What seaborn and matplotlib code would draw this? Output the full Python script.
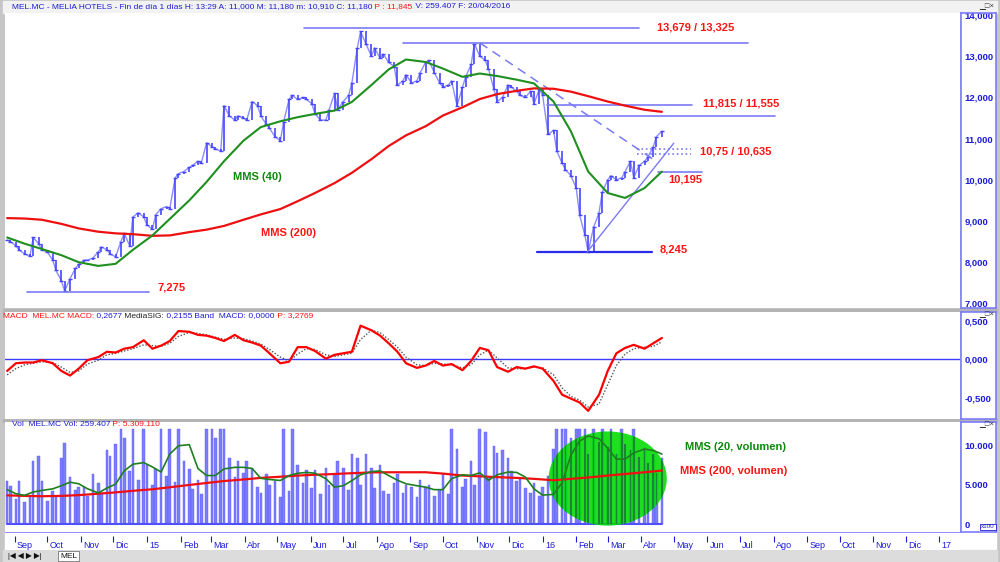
import numpy as np
import pandas as pd
import matplotlib
matplotlib.use("Agg")
import matplotlib.pyplot as plt
import matplotlib.dates as mdates
from matplotlib.patches import Ellipse, Rectangle
import seaborn as sns

# ---- values (one close every 3 trading days) ----
close = [8540, 8500, 8400, 8300, 8200, 8150, 8600, 8450, 8300, 8250,
         8050, 7800, 7550, 7300, 7600, 7850, 7950, 8050, 8050, 8100,
         8250, 8370, 8300, 8200, 8130, 8500, 8700, 8400, 9100, 9200,
         9100, 8900, 8800, 9150, 9300, 9350, 9300, 10050, 10150, 10200,
         10300, 10350, 10450, 10400, 10900, 10800, 10750, 10700, 11800, 11550,
         11450, 11550, 11500, 11450, 11900, 11800, 11550, 11350, 11250, 11050,
         10950, 11400, 11950, 12050, 11950, 12000, 11950, 11850, 11600, 11450,
         11450, 11700, 12100, 11700, 11900, 12050, 12350, 13200, 13600, 13300,
         13000, 13200, 12950, 13050, 12850, 12750, 12300, 12400, 12550, 12350,
         12400, 12600, 12850, 12900, 12600, 12350, 12250, 12300, 12400, 11800,
         12250, 12500, 12800, 13300, 13000, 12900, 12700, 12200, 11900, 12000,
         12300, 12250, 12150, 12050, 12000, 12150, 11850, 12200, 12050, 11100,
         11200, 10700, 10400, 10250, 10100, 9800, 9150, 8650, 8250, 8850,
         9200, 9700, 10000, 10100, 10000, 10050, 10200, 10450, 10050, 10350,
         10450, 10550, 10800, 11050, 11180]

volume = [5500, 4900, 3200, 5500, 2800, 3600, 8100, 8700, 5500, 3000,
          4200, 3500, 8400, 10400, 6000, 4300, 4700, 4700, 3600, 6400,
          5200, 4000, 9400, 8700, 10200, 12100, 11000, 6800, 12100, 5600,
          12100, 7600, 5000, 7000, 12100, 6200, 12100, 5400, 12100, 8000,
          7000, 4500, 5600, 3800, 12100, 12100, 11000, 12100, 12100, 8500,
          6000, 8000, 6500, 8000, 7200, 4800, 4000, 6400, 5000, 5500,
          3500, 12100, 4200, 12100, 7500, 5200, 6900, 4600, 6900, 3800,
          7200, 5000, 6400, 8000, 7200, 4400, 9000, 8500, 5000, 9000,
          7200, 4600, 7600, 4200, 3800, 5200, 6400, 4000, 5000, 4700,
          3500, 5600, 4700, 5000, 3600, 4400, 6400, 3800, 12100, 9600,
          4800, 5800, 8100, 5000, 12100, 11800, 6000, 10000, 9100, 9500,
          8400, 6800, 5500, 5800, 4600, 4000, 5200, 3600, 4800, 6200,
          9600, 12100, 12100, 12100, 11000, 12100, 12100, 12100, 9000, 12100,
          10500, 12100, 9800, 12100, 8900, 12100, 10200, 9500, 12100, 8600,
          9700, 7800, 9000, 6500, 8400]

# moving averages, one value every 12 trading days
mms40 = [8600, 8450, 8320, 8170, 8000, 7910, 7960, 8300, 8650, 9050,
         9500, 9950, 10450, 10950, 11280, 11420, 11520, 11600, 11680, 11890,
         12300, 12680, 12920, 12860, 12700, 12500, 12580, 12520, 12430, 12340,
         11900, 11180, 10200, 9680, 9560, 9800, 10200]
mms200 = [9070, 9060, 9030, 8930, 8820, 8740, 8700, 8680, 8640, 8650,
          8730, 8790, 8880, 9030, 9160, 9290, 9480, 9680, 9920, 10170,
          10500, 10820, 11080, 11300, 11560, 11760, 11960, 12080, 12160, 12220,
          12210, 12140, 12030, 11900, 11800, 11700, 11650]
vol_mms200 = [3670, 3600, 3560, 3600, 3700, 3880, 4050, 4250, 4450, 4700,
              5000, 5250, 5500, 5700, 5900, 6050, 6200, 6300, 6400, 6500,
              6600, 6620, 6620, 6620, 6450, 6200, 6100, 6000, 5900, 5780,
              5600, 5780, 5950, 6200, 6400, 6620, 6840]

# MACD panel and volume MMS(20), one value every 6 trading days
macd = [-0.15, -0.05, -0.04, -0.04, -0.01, -0.05, -0.15, -0.21, -0.12, -0.01,
        0.03, 0.10, 0.09, 0.14, 0.16, 0.25, 0.14, 0.18, 0.24, 0.37,
        0.36, 0.32, 0.31, 0.28, 0.24, 0.32, 0.25, 0.22, 0.18, 0.08,
        -0.05, -0.03, 0.16, 0.16, 0.11, 0.01, 0.06, 0.08, 0.10, 0.44,
        0.38, 0.31, 0.21, 0.10, -0.05, -0.11, -0.08, -0.02, -0.08, -0.06,
        -0.14, -0.02, 0.15, 0.12, -0.10, -0.16, -0.10, -0.12, -0.09, -0.12,
        -0.28, -0.46, -0.51, -0.56, -0.67, -0.46, -0.15, 0.08, 0.15, 0.19,
        0.14, 0.21, 0.28]
signal = [-0.20, -0.12, -0.07, -0.05, -0.03, -0.04, -0.10, -0.17, -0.15, -0.06,
          -0.01, 0.06, 0.08, 0.11, 0.14, 0.19, 0.18, 0.17, 0.21, 0.30,
          0.35, 0.34, 0.32, 0.29, 0.26, 0.28, 0.27, 0.24, 0.20, 0.13,
          0.03, -0.02, 0.07, 0.14, 0.13, 0.06, 0.04, 0.06, 0.08, 0.26,
          0.38, 0.35, 0.26, 0.16, 0.03, -0.07, -0.08, -0.05, -0.06, -0.07,
          -0.11, -0.07, 0.06, 0.12, 0.02, -0.11, -0.12, -0.12, -0.10, -0.11,
          -0.20, -0.37, -0.48, -0.53, -0.62, -0.58, -0.33, -0.08, 0.07, 0.14,
          0.16, 0.17, 0.23]
vol_mms20 = [4400, 3880, 3670, 4100, 4300, 4500, 4900, 5350, 5150, 4520,
             3980, 4600, 5100, 6800, 7650, 7850, 7300, 6650, 8950, 10000,
             10150, 7100, 6200, 6200, 7050, 7250, 7250, 7100, 5850, 5700,
             5570, 6200, 6490, 6600, 6500, 5800, 4720, 4900, 5550, 6300,
             6700, 6800, 6200, 5600, 5150, 4900, 4720, 4400, 4400, 5800,
             6300, 6200, 6550, 5600, 6300, 6650, 6600, 6000, 4500, 3700,
             3800, 5300, 8800, 10600, 11260, 10900, 9700, 8300, 8300, 9100,
             9580, 9400, 8950]

# support / resistance levels drawn on the price panel
levels = [13679, 13325, 11815, 11555, 10750, 10635, 10195, 8245, 7275]
level_start = ["2015-05-26", "2015-08-25", "2016-01-05", "2016-01-07", "2016-03-28",
               "2016-03-28", "2016-04-16", "2015-12-27", "2014-09-12"]
level_end = ["2016-03-30", "2016-07-08", "2016-05-18", "2016-08-02", "2016-05-17",
             "2016-05-17", "2016-05-27", "2016-04-11", "2015-01-03"]
level_style = ["-", "-", "-", "-", ":", ":", "-", "-", "-"]
down_trend = (["2015-11-04", "2016-04-13"], [13325, 10480])
up_trend = (["2016-02-11", "2016-05-01"], [8245, 10890])

month_names = ["Sep", "Oct", "Nov", "Dic", "15", "Feb", "Mar", "Abr", "May", "Jun",
               "Jul", "Ago", "Sep", "Oct", "Nov", "Dic", "16", "Feb", "Mar", "Abr",
               "May", "Jun", "Jul", "Ago", "Sep", "Oct", "Nov", "Dic", "17"]

days = pd.bdate_range("2014-08-25", "2016-04-20")
dates = days[::3]
macd_dates = dates[::2]
ma_dates = dates[::4]
month_dates = pd.date_range("2014-09-01", periods=len(month_names), freq="MS")

# ---- styling ----
sns.set_style("white")
plt.rcParams["font.family"] = ["Liberation Sans", "DejaVu Sans"]

W, H = 1000, 562
PRICE = "#4646ff"
LEVEL = "#7a7af5"
TXT_BLUE = "#1c1cd8"
RED = "#ff1414"
GREEN_TXT = "#0a8a0a"
X0, X1 = pd.Timestamp("2014-08-23"), pd.Timestamp("2017-01-20")


def rect(l, t, r, b):
    return [l / W, 1 - b / H, (r - l) / W, (b - t) / H]


def clean(ax):
    ax.set_xlim(X0, X1)
    ax.set_xticks([])
    ax.set_yticks([])
    for s in ax.spines.values():
        s.set_visible(False)


def right_box(t, b, ylim, ticks, labels):
    rb = fig.add_axes(rect(961, t, 996, b))
    rb.set_ylim(*ylim)
    rb.set_xticks([])
    rb.set_yticks(ticks)
    rb.set_yticklabels(labels, fontsize=6.8, fontweight="bold", color=TXT_BLUE, ha="left")
    rb.tick_params(axis="y", direction="in", length=3, pad=-2.5, color=TXT_BLUE)
    for s in rb.spines.values():
        s.set_color("#7c7cff")
        s.set_linewidth(1.2)
    return rb


def rich_text(ax, x, y, parts, size):
    t = ax.text(x, y, parts[0][0], color=parts[0][1], fontsize=size, va="center")
    for s, c in parts[1:]:
        t = ax.annotate(s, xy=(1, 0), xycoords=t, va="bottom", color=c, fontsize=size)


fig = plt.figure(figsize=(W / 100, H / 100), dpi=100, facecolor="#c6c6c6")

# window chrome
bg = fig.add_axes([0, 0, 1, 1], zorder=-5)
bg.set_xlim(0, W)
bg.set_ylim(H, 0)
bg.axis("off")
bg.add_patch(Rectangle((3, 1), 994, 12, color="#f2f2f2"))
bg.add_patch(Rectangle((5, 532), 991, 18, color="white"))
bg.add_patch(Rectangle((3, 550), 994, 12, color="#dcdcdc"))
for y0 in (309, 419):
    bg.add_patch(Rectangle((3, y0), 994, 3, color="#b4b4b4"))

# ---- price panel ----
ax = fig.add_axes(rect(5, 13, 960, 308))
clean(ax)
ax.set_ylim(6888, 14049)
c = np.array(close, float)
prev = np.r_[c[0], c[:-1]]
ax.plot(dates, c, color="#8c8cff", lw=1.0)
ax.vlines(dates, np.minimum(prev, c), np.maximum(prev, c), color=PRICE, lw=1.2)
ax.plot(dates, c, ls="none", marker="_", ms=3, color=PRICE)

for lv, d0, d1, st in zip(levels, level_start, level_end, level_style):
    lw = 1.6 if lv == 8245 else 1.2
    col = "#2a2ae8" if lv == 8245 else LEVEL
    ax.plot(pd.to_datetime([d0, d1]), [lv, lv], color=col, lw=lw, ls=st)
ax.plot(pd.to_datetime(down_trend[0]), down_trend[1], color=LEVEL, lw=1.1, ls=(0, (6, 4)))
ax.plot(pd.to_datetime(up_trend[0]), up_trend[1], color=LEVEL, lw=1.0)

sns.lineplot(x=ma_dates, y=mms200, ax=ax, color="#ee1010", linewidth=1.6)
sns.lineplot(x=ma_dates, y=mms40, ax=ax, color="#1f8f1f", linewidth=1.5)
ax.set_xlabel("")
ax.set_ylabel("")

right_box(13, 308, (6888, 14049), [7000, 8000, 9000, 10000, 11000, 12000, 13000, 14000],
          ["7,000", "8,000", "9,000", "10,000", "11,000", "12,000", "13,000", "14,000"])

# ---- MACD panel ----
mx = fig.add_axes(rect(5, 312, 960, 419))
clean(mx)
mx.set_ylim(-0.776, 0.618)
mx.axhline(0, color="#3c3cff", lw=1)
sns.lineplot(x=macd_dates, y=signal, ax=mx, color="#555555", linewidth=1.0, linestyle=(0, (1, 1.3)))
sns.lineplot(x=macd_dates, y=macd, ax=mx, color="#ff0000", linewidth=1.6)
mx.set_xlabel("")
mx.set_ylabel("")
right_box(312, 419, (-0.776, 0.618), [-0.5, 0, 0.5], ["-0,500", "0,000", "0,500"])

# ---- volume panel ----
vx = fig.add_axes(rect(5, 422, 960, 532))
clean(vx)
vx.set_ylim(-1010, 13040)
vx.bar(dates, volume, width=2.4, color="#7c7cff", edgecolor="#5c5cff", linewidth=0.3, zorder=1)
vx.plot([dates[0], dates[-1]], [0, 0], color="#5050ff", lw=1.5, zorder=1)
ell = Ellipse((mdates.date2num(pd.Timestamp("2016-03-01")), 5820), width=109, height=12025,
              facecolor="#00dc00", edgecolor="none", alpha=0.88, zorder=2)
vx.add_patch(ell)
# bars seen through the green highlight
inner = vx.bar(dates, volume, width=1.6, color="#1d6e3c", alpha=0.75, linewidth=0, zorder=2.5)
for p in inner:
    p.set_clip_path(ell)
sns.lineplot(x=ma_dates, y=vol_mms200, ax=vx, color="#ee1010", linewidth=1.6, zorder=3)
sns.lineplot(x=macd_dates, y=vol_mms20, ax=vx, color="#1f7f1f", linewidth=1.2, zorder=4)
vx.set_xlabel("")
vx.set_ylabel("")
right_box(422, 532, (-1010, 13040), [0, 5000, 10000], ["0", "5.000", "10.000"])

# ---- date strip ----
dx = fig.add_axes(rect(5, 532, 960, 550))
clean(dx)
dx.set_ylim(0, 1)
dx.axhline(1, color="#7c7cff", lw=1.2)
dx.vlines(month_dates, 0.45, 0.8, color=TXT_BLUE, lw=0.8)
for d, name in zip(month_dates, month_names):
    dx.text(d + pd.Timedelta(days=2), 0.25, name, fontsize=6.5, color=TXT_BLUE, va="center")

# ---- text overlay (pixel coordinates) ----
ov = fig.add_axes([0, 0, 1, 1], zorder=20)
ov.set_xlim(0, W)
ov.set_ylim(H, 0)
ov.axis("off")

rich_text(ov, 12, 7, [("MEL.MC - MELIA HOTELS - Fin de día 1 días H: 13:29 A: 11,000 M: 11,180 "
                       "m: 10,910 C: 11,180", TXT_BLUE), (" P : 11,845", RED),
                      (" V: 259.407 F: 20/04/2016", TXT_BLUE)], 6.0)
rich_text(ov, 3, 316, [("MACD  MEL.MC MACD:", RED), (" 0,2677", TXT_BLUE), (" MediaSIG:", "#222222"),
                       (" 0,2155", TXT_BLUE), (" Band  MACD:", TXT_BLUE), (" 0,0000", TXT_BLUE),
                       (" P: 3,2769", RED)], 6.0)
rich_text(ov, 12, 425, [("Vol  MEL.MC Vol: 259.407", TXT_BLUE), (" P: 5.309.110", RED)], 6.0)

bold = dict(fontsize=8, fontweight="bold", va="center")
ov.text(657, 28, "13,679 / 13,325", color=RED, **bold)
ov.text(703, 104, "11,815 / 11,555", color=RED, **bold)
ov.text(700, 151, "10,75 / 10,635", color=RED, **bold)
ov.text(668, 180, "10,195", color=RED, **bold)
ov.text(660, 249, "8,245", color=RED, **bold)
ov.text(158, 287, "7,275", color=RED, **bold)
ov.text(233, 177, "MMS (40)", color=GREEN_TXT, **bold)
ov.text(261, 233, "MMS (200)", color=RED, **bold)
ov.text(685, 447, "MMS (20, volumen)", color=GREEN_TXT, **bold)
ov.text(680, 471, "MMS (200, volumen)", color=RED, **bold)

for yy in (6, 314, 424):
    ov.text(994, yy, "▁□×", fontsize=5.5, color="#333333", ha="right", va="center")
ov.text(988, 527, "x100", fontsize=4.5, color=TXT_BLUE, ha="center", va="center",
        bbox=dict(boxstyle="square,pad=0.15", fc="white", ec=TXT_BLUE, lw=0.6))
ov.text(8, 556, "|◀ ◀ ▶ ▶|", fontsize=5.5, color="#111111", va="center")
ov.text(60, 556, "MEL", fontsize=6, color="#111111", va="center",
        bbox=dict(boxstyle="square,pad=0.2", fc="white", ec="#777777", lw=0.6))

fig.savefig("out.png", dpi=100, facecolor=fig.get_facecolor())
